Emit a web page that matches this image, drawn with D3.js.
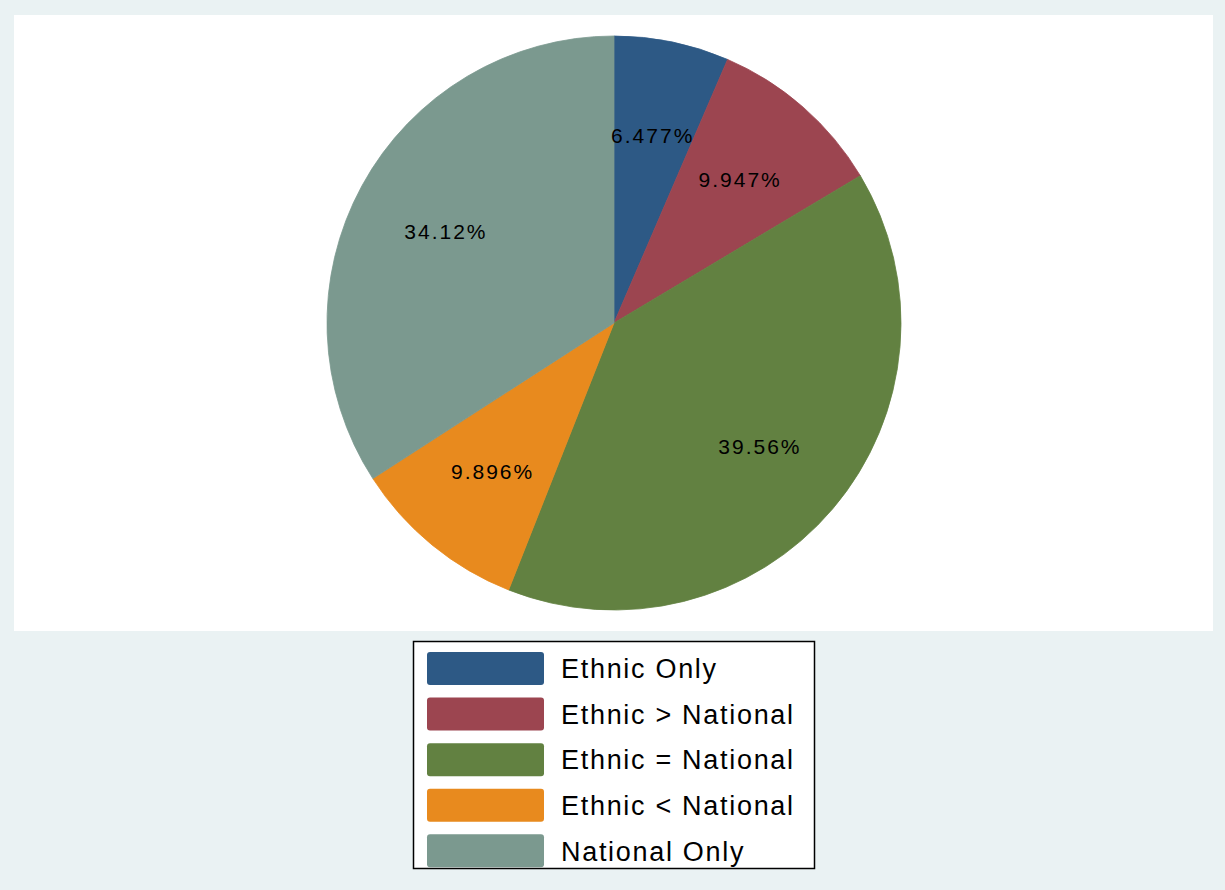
<!DOCTYPE html>
<html>
<head>
<meta charset="utf-8">
<script src="https://cdn.jsdelivr.net/npm/d3@7"></script>
<style>
html,body{margin:0;padding:0;background:#eaf2f3;}
svg{display:block;}
</style>
</head>
<body>
<svg id="chart" width="1225" height="890"></svg>
<script>
const categories = ["Ethnic Only", "Ethnic > National", "Ethnic = National", "Ethnic < National", "National Only"];
const values = [6.477, 9.947, 39.56, 9.896, 34.12];
const labels = ["6.477%", "9.947%", "39.56%", "9.896%", "34.12%"];
const colors = ["#2d5985", "#9c4550", "#628141", "#e88a1e", "#7b998f"];

const svg = d3.select("#chart");
svg.append("rect").attr("x",0).attr("y",0).attr("width",1225).attr("height",890).attr("fill","#eaf2f3");
svg.append("rect").attr("x",14).attr("y",15).attr("width",1199).attr("height",616).attr("fill","#ffffff");

const cx = 614, cy = 323, R = 287;
const pie = d3.pie().sort(null).value(d => d)(values);
const arc = d3.arc().innerRadius(0).outerRadius(R);
const labelArc = d3.arc().innerRadius(R*0.667).outerRadius(R*0.667);
const color = d3.scaleOrdinal().domain(categories).range(colors);

const g = svg.append("g").attr("transform", `translate(${cx},${cy})`);
g.selectAll("path.slice").data(pie).enter().append("path")
  .attr("class","slice")
  .attr("d", arc)
  .attr("fill", (d,i) => color(categories[i]))
  .attr("stroke", (d,i) => color(categories[i]))
  .attr("stroke-width", 0.8);

g.selectAll("text.lbl").data(pie).enter().append("text")
  .attr("class","lbl")
  .attr("transform", d => `translate(${labelArc.centroid(d)})`)
  .attr("text-anchor","middle")
  .attr("dy","0.36em")
  .attr("font-family","Liberation Sans, Arial, sans-serif")
  .attr("font-size", 21)
  .attr("letter-spacing", "2px")
  .attr("fill","#000")
  .text((d,i) => labels[i]);

// Legend
const lx = 413.5, ly = 641.5, lw = 401, lh = 227;
svg.append("rect").attr("x",lx).attr("y",ly).attr("width",lw).attr("height",lh)
  .attr("fill","#ffffff").attr("stroke","#000").attr("stroke-width",1.5);
const rowY = d3.scaleBand().domain(categories).range([652, 869]).paddingInner(0.24).paddingOuter(0);
const leg = svg.append("g");
const rows = leg.selectAll("g.row").data(categories).enter().append("g").attr("class","row")
  .attr("transform", d => `translate(0,${rowY(d)})`);
rows.append("rect").attr("x",427).attr("y",0).attr("width",117).attr("height",33)
  .attr("rx",3).attr("fill", d => color(d));
rows.append("text").attr("x",561).attr("y",16.5).attr("dy","0.36em")
  .attr("font-family","Liberation Sans, Arial, sans-serif")
  .attr("font-size",27).attr("letter-spacing","1.7px").attr("fill","#000")
  .text(d => d);
</script>
</body>
</html>
